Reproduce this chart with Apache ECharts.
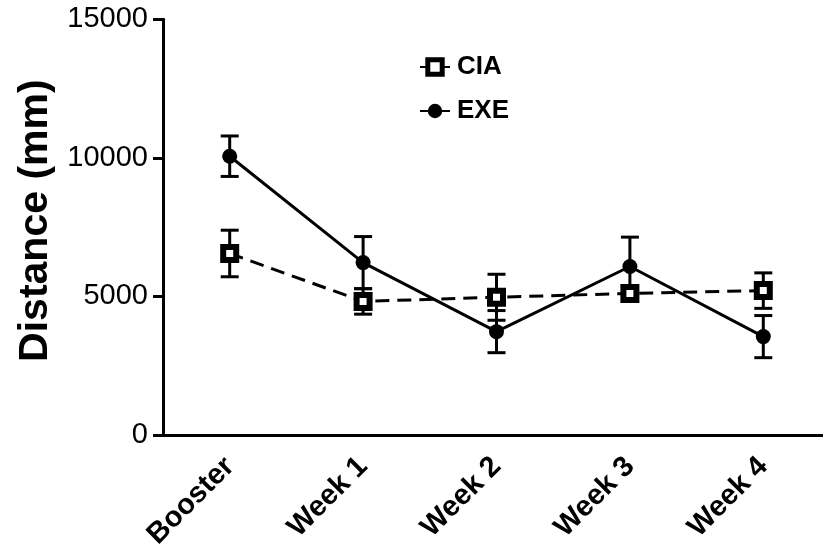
<!DOCTYPE html>
<html>
<head>
<meta charset="utf-8">
<script src="https://cdn.jsdelivr.net/npm/echarts@6/dist/echarts.min.js"></script>
<style>
  html, body { margin: 0; padding: 0; background: #fff; }
  #chart { width: 823px; height: 549px; }
</style>
</head>
<body>
<div id="chart"></div>
<script>
// Time points
const categories = ['Booster', 'Week 1', 'Week 2', 'Week 3', 'Week 4'];
// Distance travelled (mm), mean and SEM per group
const ciaMean = [6550, 4820, 4970, 5110, 5210];
const ciaSem  = [840, 460, 830, 250, 640];
const exeMean = [10060, 6220, 3730, 6080, 3550];
const exeSem  = [730, 940, 760, 1060, 760];
// Value axis ticks
const yTicks = [0, 5000, 10000, 15000];

const FONT = 'Liberation Sans, Arial, sans-serif';

function errorData(means, sems) {
  return means.map((m, i) => [i, m - sems[i], m + sems[i]]);
}

function renderErrorBar(params, api) {
  const x = api.value(0);
  const lo = api.coord([x, api.value(1)]);
  const hi = api.coord([x, api.value(2)]);
  const half = 9;
  const style = { stroke: '#000', lineWidth: 3 };
  return {
    type: 'group',
    children: [
      { type: 'line', shape: { x1: lo[0], y1: lo[1], x2: hi[0], y2: hi[1] }, style },
      { type: 'line', shape: { x1: lo[0] - half, y1: lo[1], x2: lo[0] + half, y2: lo[1] }, style },
      { type: 'line', shape: { x1: hi[0] - half, y1: hi[1], x2: hi[0] + half, y2: hi[1] }, style }
    ]
  };
}

const chart = echarts.init(document.getElementById('chart'), null, { renderer: 'canvas' });

chart.setOption({
  animation: false,
  backgroundColor: '#fff',
  grid: {
    left: 163, top: 19.3, width: 667, height: 415.7,
    containLabel: false,
    outerBoundsMode: 'none'
  },
  legend: {
    orient: 'vertical',
    left: 414,
    top: 49,
    itemGap: 18,
    itemWidth: 30,
    itemHeight: 18,
    textStyle: { fontFamily: FONT, fontSize: 26, fontWeight: 'bold', color: '#000', padding: [0, 0, 0, 2] },
    data: [
      { name: 'CIA', itemStyle: { color: '#fff', borderColor: '#000', borderWidth: 5 } },
      { name: 'EXE' }
    ]
  },
  xAxis: {
    type: 'category',
    data: categories,
    boundaryGap: true,
    axisLine: { lineStyle: { color: '#000', width: 3 } },
    axisTick: { alignWithLabel: true, length: 8, lineStyle: { color: '#000', width: 3 } },
    axisLabel: {
      rotate: 45,
      margin: 27,
      fontFamily: FONT,
      fontSize: 29,
      fontWeight: 'bold',
      color: '#000'
    },
    splitLine: { show: false }
  },
  yAxis: {
    type: 'value',
    min: yTicks[0],
    max: yTicks[yTicks.length - 1],
    interval: yTicks[1] - yTicks[0],
    name: 'Distance (mm)',
    nameLocation: 'middle',
    nameGap: 104,
    nameTextStyle: { fontFamily: FONT, fontSize: 41, fontWeight: 'bold', color: '#000', padding: [0, 0, 0, 13] },
    axisLine: { show: true, lineStyle: { color: '#000', width: 3 } },
    axisTick: { show: true, length: 10, lineStyle: { color: '#000', width: 3 } },
    axisLabel: {
      margin: 15,
      fontFamily: FONT,
      fontSize: 29,
      color: '#000',
      formatter: (v) => String(v)
    },
    splitLine: { show: false }
  },
  series: [
    {
      name: 'CIA-err',
      type: 'custom',
      renderItem: renderErrorBar,
      encode: { x: 0, y: [1, 2] },
      data: errorData(ciaMean, ciaSem),
      z: 1
    },
    {
      name: 'EXE-err',
      type: 'custom',
      renderItem: renderErrorBar,
      encode: { x: 0, y: [1, 2] },
      data: errorData(exeMean, exeSem),
      z: 1
    },
    {
      name: 'EXE',
      type: 'line',
      data: exeMean,
      symbol: 'circle',
      symbolSize: 15,
      lineStyle: { color: '#000', width: 3 },
      itemStyle: { color: '#000', borderColor: '#000', borderWidth: 0 },
      z: 2
    },
    {
      name: 'CIA',
      type: 'line',
      data: ciaMean,
      symbol: 'rect',
      symbolSize: 13,
      lineStyle: { color: '#000', width: 3, type: [14, 8] },
      itemStyle: { color: '#fff', borderColor: '#000', borderWidth: 6 },
      z: 3
    }
  ]
});
</script>
</body>
</html>
